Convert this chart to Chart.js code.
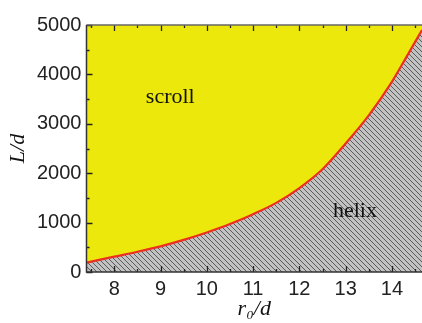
<!DOCTYPE html>
<html>
<head>
<meta charset="utf-8">
<script src="https://cdn.jsdelivr.net/npm/chart.js@4.4.1/dist/chart.umd.min.js"></script>
<style>
    body { margin: 0; background: #fff; }
    canvas { display: block; }
</style>
</head>
<body>
<canvas id="phaseChart" width="422" height="323"></canvas>
<script>
// Scroll / helix boundary
const ratioR = [7.4, 8, 8.5, 9, 9.5, 10, 10.5, 11, 11.5, 12, 12.5, 13, 13.5, 14, 14.3, 14.65];
const ratioL = [190, 310, 410, 520, 650, 800, 970, 1170, 1400, 1700, 2080, 2600, 3170, 3850, 4330, 4900];

// Tick values
const xTicks = [8, 9, 10, 11, 12, 13, 14];
const xMinorTicks = [7.5, 8.5, 9.5, 10.5, 11.5, 12.5, 13.5, 14.5];
const yTicks = [0, 1000, 2000, 3000, 4000, 5000];
const yMinorTicks = [500, 1500, 2500, 3500, 4500];

// Region names
const regionNames = ['scroll', 'helix'];
const regionR = [9.21, 13.2];
const regionL = [3535, 1232];

const boundary = ratioR.map((r, i) => ({ x: r, y: ratioL[i] }));

// Gray hatch for the helix region
function makeHatch() {
    const size = 5;
    const c = document.createElement('canvas');
    c.width = size;
    c.height = size;
    const g = c.getContext('2d');
    g.fillStyle = '#c2c2c2';
    g.fillRect(0, 0, size, size);
    g.strokeStyle = '#5a5a5a';
    g.lineWidth = 1;
    g.beginPath();
    g.moveTo(-1, -1); g.lineTo(size + 1, size + 1);
    g.moveTo(-1, size - 1); g.lineTo(1, size + 1);
    g.moveTo(size - 1, -1); g.lineTo(size + 1, 1);
    g.stroke();
    return g.createPattern(c, 'repeat');
}

// Inner ticks, frame and region labels
const framePlugin = {
    id: 'frame',
    afterDraw(chart) {
        const ctx = chart.ctx;
        const a = chart.chartArea;
        const xs = chart.scales.x;
        const ys = chart.scales.y;
        ctx.save();
        ctx.lineWidth = 1.3;
        ctx.strokeStyle = '#222';
        ctx.beginPath();
        const xTick = (v, len) => {
            const px = Math.round(xs.getPixelForValue(v)) + 0.5;
            ctx.moveTo(px, a.bottom); ctx.lineTo(px, a.bottom - len);
            ctx.moveTo(px, a.top); ctx.lineTo(px, a.top + len);
        };
        const yTick = (v, len) => {
            const py = Math.round(ys.getPixelForValue(v)) + 0.5;
            ctx.moveTo(a.left, py); ctx.lineTo(a.left + len, py);
        };
        xTicks.forEach(v => xTick(v, 6));
        xMinorTicks.forEach(v => xTick(v, 3));
        yTicks.forEach(v => yTick(v, 6));
        yMinorTicks.forEach(v => yTick(v, 3));
        ctx.stroke();

        ctx.lineWidth = 1.5;
        ctx.strokeStyle = '#666';
        ctx.beginPath();
        ctx.moveTo(a.right, a.top); ctx.lineTo(a.left, a.top);
        ctx.stroke();
        ctx.strokeStyle = '#333';
        ctx.beginPath();
        ctx.moveTo(a.left, a.top); ctx.lineTo(a.left, a.bottom); ctx.lineTo(a.right, a.bottom);
        ctx.stroke();

        ctx.fillStyle = '#111';
        ctx.font = '22px "Liberation Serif", "Times New Roman", serif';
        ctx.textAlign = 'center';
        ctx.textBaseline = 'middle';
        regionNames.forEach((name, i) => {
            ctx.fillText(name, xs.getPixelForValue(regionR[i]), ys.getPixelForValue(regionL[i]));
        });
        ctx.restore();
    }
};

const tickFont = { family: '"Liberation Sans", Arial, sans-serif', size: 20, lineHeight: 1 };
const titleFont = { family: '"Liberation Serif", "Times New Roman", serif', size: 22, style: 'italic', lineHeight: 1 };

new Chart(document.getElementById('phaseChart'), {
    type: 'line',
    data: {
        datasets: [{
            // scroll region, filled up to the top
            data: boundary,
            order: 3,
            borderWidth: 0,
            pointRadius: 0,
            cubicInterpolationMode: 'monotone',
            backgroundColor: '#ede80b',
            fill: 'end'
        }, {
            // helix region
            data: boundary,
            order: 2,
            borderWidth: 0,
            pointRadius: 0,
            cubicInterpolationMode: 'monotone',
            backgroundColor: makeHatch(),
            fill: 'origin'
        }, {
            // boundary line
            data: boundary,
            order: 1,
            borderColor: '#ec2f1e',
            borderWidth: 2.2,
            pointRadius: 0,
            cubicInterpolationMode: 'monotone',
            fill: false
        }]
    },
    options: {
        responsive: false,
        animation: false,
        layout: { padding: { top: 25, right: 0, left: 7, bottom: 3 } },
        plugins: {
            legend: { display: false },
            tooltip: { enabled: false }
        },
        scales: {
            x: {
                type: 'linear',
                min: 7.4,
                max: 14.65,
                afterBuildTicks: s => { s.ticks = xTicks.map(v => ({ value: v })); },
                grid: { display: false, drawTicks: false },
                border: { display: false },
                ticks: {
                    color: '#222',
                    padding: 7,
                    maxRotation: 0,
                    callback: v => String(v),
                    font: tickFont
                },
                title: {
                    display: true,
                    text: 'r₀/d',
                    color: '#111',
                    padding: { top: -8, bottom: 0 },
                    font: titleFont
                }
            },
            y: {
                min: 0,
                max: 5000,
                afterBuildTicks: s => { s.ticks = yTicks.map(v => ({ value: v })); },
                grid: { display: false, drawTicks: false },
                border: { display: false },
                ticks: {
                    color: '#222',
                    padding: 5,
                    callback: v => String(v),
                    font: tickFont
                },
                title: {
                    display: true,
                    text: 'L/d',
                    color: '#111',
                    padding: { top: 0, bottom: 3 },
                    font: titleFont
                }
            }
        }
    },
    plugins: [framePlugin]
});
</script>
</body>
</html>
